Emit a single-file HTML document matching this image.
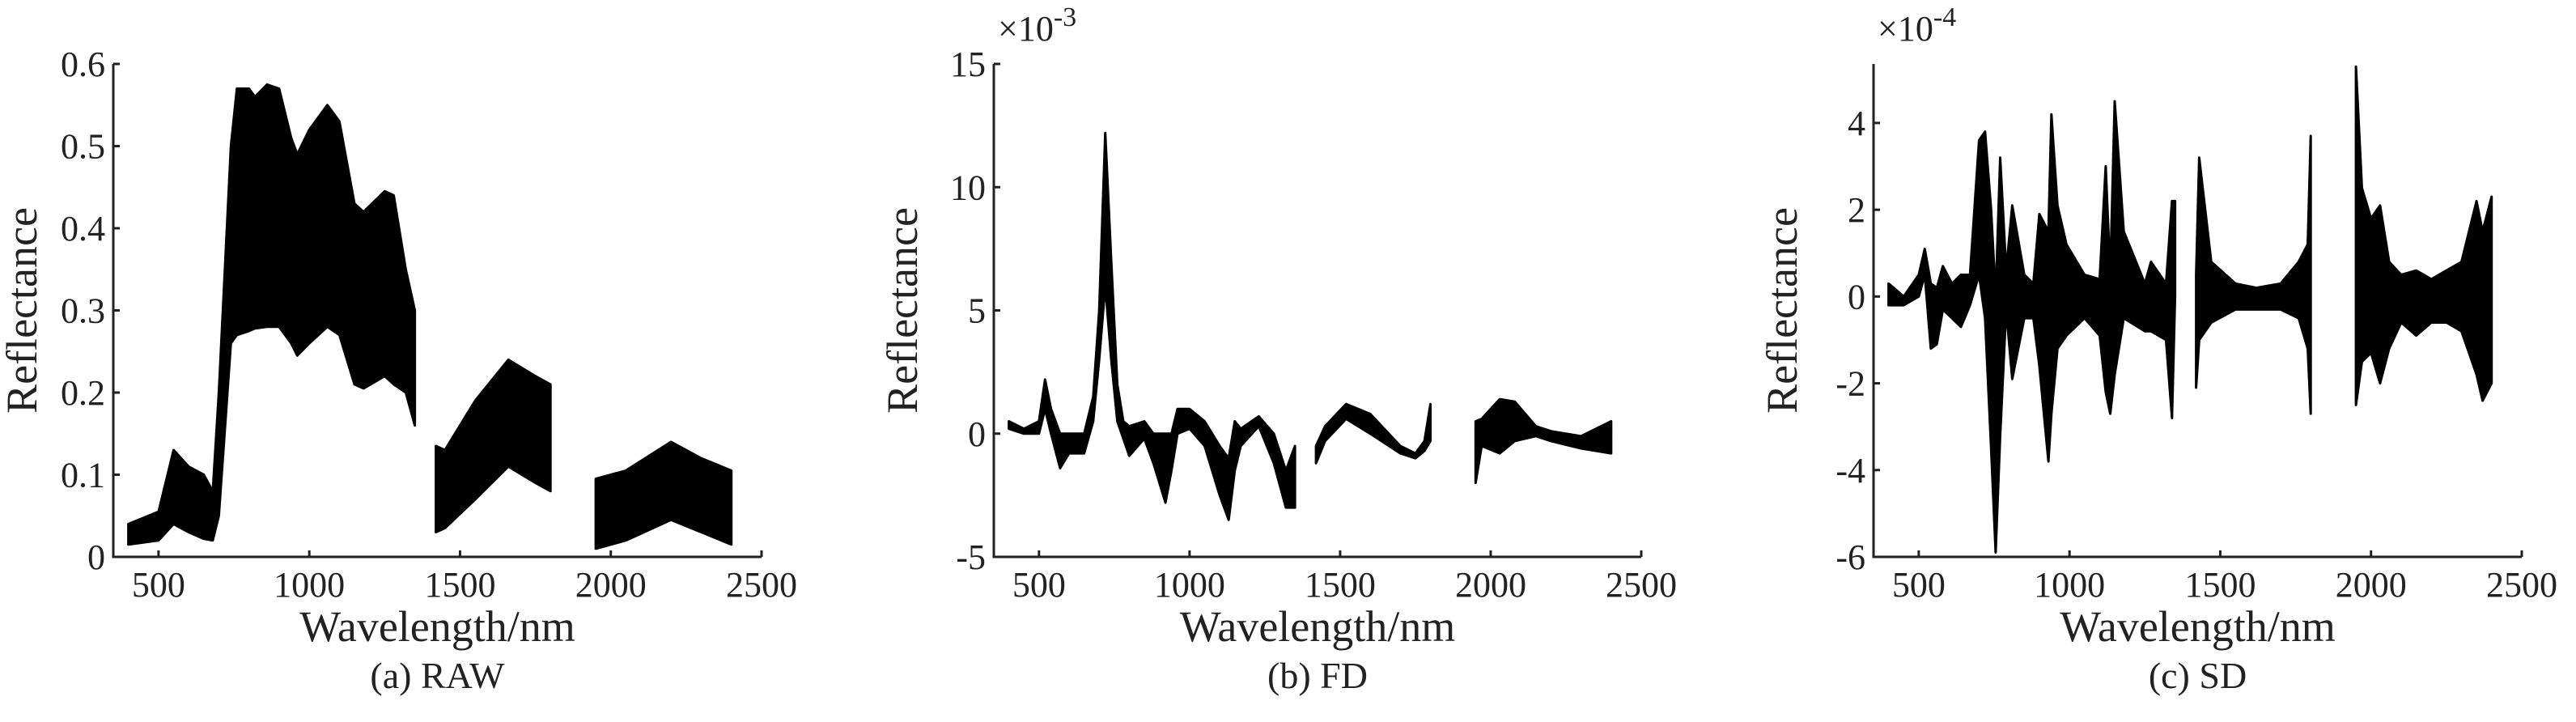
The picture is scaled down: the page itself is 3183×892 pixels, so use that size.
<!DOCTYPE html>
<html><head><meta charset="utf-8"><style>
html,body{margin:0;padding:0;background:#fff;width:3183px;height:892px;overflow:hidden}
svg{display:block}
text{font-family:"Liberation Serif",serif;fill:#222}
</style></head><body>
<svg id="fig" width="3183" height="892" viewBox="0 0 3183 892" xmlns="http://www.w3.org/2000/svg"></svg>
<script>
// ---- shared x ticks ----
const xTicks = [500, 1000, 1500, 2000, 2500];
// ---- RAW (a) ----
const rawSeg1W = [400,500,550,600,650,680,700,740,760,800,820,860,900,940,960,1000,1060,1100,1150,1180,1250,1280,1320,1350];
const rawSeg1U = [0.04,0.055,0.13,0.11,0.10,0.08,0.2,0.5,0.57,0.57,0.56,0.575,0.57,0.51,0.49,0.52,0.55,0.53,0.43,0.42,0.445,0.44,0.35,0.3];
const rawSeg1L = [0.015,0.02,0.04,0.03,0.022,0.02,0.05,0.26,0.27,0.275,0.278,0.28,0.28,0.26,0.245,0.26,0.28,0.27,0.21,0.205,0.22,0.21,0.2,0.16];
const rawSeg2W = [1420,1450,1550,1660,1750,1800];
const rawSeg2U = [0.135,0.13,0.19,0.24,0.22,0.21];
const rawSeg2L = [0.03,0.035,0.07,0.11,0.09,0.08];
const rawSeg3W = [1950,2050,2200,2300,2400];
const rawSeg3U = [0.095,0.105,0.14,0.12,0.105];
const rawSeg3L = [0.01,0.02,0.045,0.03,0.015];
const rawYTicks = [0,0.1,0.2,0.3,0.4,0.5,0.6];
const rawYLabels = ["0","0.1","0.2","0.3","0.4","0.5","0.6"];
// ---- FD (b) x1e-3 ----
const fdSeg1W = [400,450,500,520,540,570,600,650,680,700,720,740,760,780,800,850,880,920,940,960,1000,1050,1100,1130,1150,1170,1230,1280,1320,1350];
const fdSeg1U = [0.5,0.2,0.5,2.2,1.0,0,0,0,1.5,5,12.2,7,2,0.5,0.3,0.5,0,0,0,1.0,1.0,0.5,-0.5,-1.0,0.5,0.2,0.7,0,-1.5,-0.5];
const fdSeg1L = [0.2,0,0,1.0,0,-1.4,-0.8,-0.8,0.5,3,6,3,0.5,-0.2,-0.9,-0.2,-1.2,-2.8,-1.5,0,0.2,-0.5,-2.5,-3.5,-1.5,-0.5,0.3,-1.2,-3,-3];
const fdSeg2W = [1420,1450,1520,1600,1700,1750,1780,1800];
const fdSeg2U = [-0.5,0.3,1.2,0.8,-0.5,-0.8,-0.3,1.2];
const fdSeg2L = [-1.2,-0.3,0.6,0,-0.8,-1.0,-0.7,-0.3];
const fdSeg3W = [1950,1970,2030,2080,2150,2200,2300,2400];
const fdSeg3U = [0.5,0.6,1.4,1.3,0.3,0.1,-0.1,0.5];
const fdSeg3L = [-2.0,-0.5,-0.8,-0.3,-0.1,-0.3,-0.6,-0.8];
const fdYTicks = [-5,0,5,10,15];
// ---- SD (c) x1e-4 ----
const sdSeg1W = [400,450,500,520,540,560,580,610,640,670,700,720,740,755,770,790,810,850,880,900,930,940,960,990,1050,1100,1120,1135,1150,1180,1250,1270,1320,1340,1350];
const sdSeg1U = [0.3,0,0.5,1.1,0.3,0.2,0.7,0.3,0.5,0.5,3.6,3.8,2,0,3.2,0.6,2.1,0.5,0.3,1.9,1.5,4.2,2.1,1.2,0.5,0.4,3,0.5,4.5,1.5,0.3,0.8,0.3,2.2,2.2];
const sdSeg1L = [-0.2,-0.2,0,0.5,-1.2,-1.1,-0.3,-0.5,-0.7,-0.2,0.5,-0.5,-3.5,-5.9,-3.2,-0.3,-1.9,-0.5,-0.5,-1.6,-3.8,-2.7,-1.2,-0.9,-0.5,-0.9,-2.2,-2.7,-1.8,-0.5,-0.8,-0.8,-1.0,-2.8,0];
const sdSeg2W = [1420,1430,1470,1550,1620,1700,1760,1790,1800];
const sdSeg2U = [0.5,3.2,0.8,0.3,0.2,0.3,0.8,1.2,3.7];
const sdSeg2L = [-2.1,-1.0,-0.6,-0.3,-0.3,-0.3,-0.5,-1.2,-2.7];
const sdSeg3W = [1950,1970,2000,2030,2060,2100,2150,2200,2250,2300,2350,2370,2400];
const sdSeg3U = [5.3,2.5,1.8,2.1,0.8,0.5,0.6,0.4,0.6,0.8,2.2,1.5,2.3];
const sdSeg3L = [-2.5,-1.5,-1.3,-2.0,-1.2,-0.6,-0.9,-0.6,-0.6,-0.8,-1.8,-2.4,-2.0];
const sdYTicks = [-6,-4,-2,0,2,4];

const NS = "http://www.w3.org/2000/svg";
const fig = document.getElementById('fig');
function mk(tag, attrs, parent){const e=document.createElementNS(NS,tag);for(const k in attrs)e.setAttribute(k,attrs[k]);(parent||fig).appendChild(e);return e;}

function panel(id, x0, x1, ymin, ymax, yTicks, yLabels, segs, sub, exp){
  const y0 = 688, yTop = 79;
  const g = mk('g', {});
  
  
  const sx = w => x0 + (w - 350) / 2150 * (x1 - x0);
  const sy = v => y0 - (v - ymin) / (ymax - ymin) * (y0 - yTop);
  segs.forEach((s, i) => {
    let d = '';
    s.w.forEach((w, j) => { d += (j ? 'L' : 'M') + sx(w).toFixed(1) + ',' + sy(s.u[j]).toFixed(1); });
    for (let j = s.w.length - 1; j >= 0; j--) d += 'L' + sx(s.w[j]).toFixed(1) + ',' + sy(s.l[j]).toFixed(1);
    d += 'Z';
    const p = mk('path', {d: d, fill: '#000', stroke: '#000', 'stroke-width': 3, 'stroke-linejoin': 'round'}, g);
    
    
  });
  const ax = mk('path', {d: `M${x0},${yTop}L${x0},${y0}L${x1},${y0}`, fill: 'none', stroke: '#222', 'stroke-width': 3}, g);
  
  
  xTicks.forEach(t => {
    const X = sx(t);
    mk('line', {x1: X, y1: y0, x2: X, y2: y0 - 8, stroke: '#222', 'stroke-width': 3}, g);
    const tx = mk('text', {x: X, y: 737, 'font-size': 44, 'text-anchor': 'middle'}, g);
    
    
    tx.textContent = t;
  });
  yTicks.forEach((t, i) => {
    const Y = sy(t);
    mk('line', {x1: x0, y1: Y, x2: x0 + 8, y2: Y, stroke: '#222', 'stroke-width': 3}, g);
    const tx = mk('text', {x: x0 - 10, y: Y + 15, 'font-size': 44, 'text-anchor': 'end'}, g);
    
    
    tx.textContent = yLabels ? yLabels[i] : t;
  });
  const xl = mk('text', {x: (x0 + x1) / 2, y: 792, 'font-size': 54, 'text-anchor': 'middle'}, g);
  
  
  xl.textContent = 'Wavelength/nm';
  const yl = mk('text', {x: 0, y: 0, 'font-size': 54, 'text-anchor': 'middle', transform: `translate(${x0 - 95},${(y0 + yTop) / 2}) rotate(-90)`}, g);
  
  
  yl.textContent = 'Reflectance';
  const st = mk('text', {x: (x0 + x1) / 2, y: 850, 'font-size': 46, 'text-anchor': 'middle'}, g);
  
  
  st.textContent = sub;
  if (exp) {
    const ex = mk('text', {x: x0 + 5, y: 50, 'font-size': 44}, g);
    
    
    ex.innerHTML = '×10<tspan dy="-18" font-size="34">' + exp + '</tspan>';
  }
}

panel('raw', 140, 941, 0, 0.6, rawYTicks, rawYLabels,
  [{w: rawSeg1W, u: rawSeg1U, l: rawSeg1L}, {w: rawSeg2W, u: rawSeg2U, l: rawSeg2L}, {w: rawSeg3W, u: rawSeg3U, l: rawSeg3L}],
  '(a) RAW', null);
panel('fd', 1228, 2028, -5, 15, fdYTicks, null,
  [{w: fdSeg1W, u: fdSeg1U, l: fdSeg1L}, {w: fdSeg2W, u: fdSeg2U, l: fdSeg2L}, {w: fdSeg3W, u: fdSeg3U, l: fdSeg3L}],
  '(b) FD', '-3');
panel('sd', 2315, 3116, -6, 5.36, sdYTicks, null,
  [{w: sdSeg1W, u: sdSeg1U, l: sdSeg1L}, {w: sdSeg2W, u: sdSeg2U, l: sdSeg2L}, {w: sdSeg3W, u: sdSeg3U, l: sdSeg3L}],
  '(c) SD', '-4');
</script>
</body></html>
